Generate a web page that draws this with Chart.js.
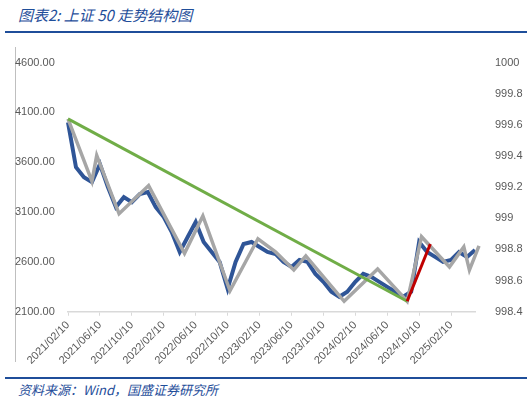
<!DOCTYPE html>
<html><head><meta charset="utf-8">
<script src="https://cdn.jsdelivr.net/npm/chart.js@4"></script>
<style>
body{margin:0;width:532px;height:404px;background:#fff;position:relative;overflow:hidden;font-family:"Liberation Sans",sans-serif}
#t{position:absolute;left:18px;top:4px;font-family:"Noto Sans CJK SC";font-style:italic;color:#1f4e9a;font-size:15px}
.rule{position:absolute;left:5px;width:522px;height:2px;background:#1f4e9a}
#s{position:absolute;left:18px;top:380px;font-family:"Noto Sans CJK SC";font-style:italic;color:#1f4e9a;font-size:13px}
#vl{position:absolute;left:15px;top:47px;width:1px;height:315px;background:#bfbfbf}
#c{position:absolute;left:15px;top:44px;width:515px;height:326px}
</style></head><body>
<div id="t">图表2: 上证 50 走势结构图</div>
<div class="rule" style="top:31px"></div>
<div id="vl"></div>
<div id="c"><canvas id="cv"></canvas></div>
<div class="rule" style="top:377px"></div>
<div id="s">资料来源：Wind，国盛证券研究所</div>
<script>
const monthIdx=[...Array(53).keys()];
const indexValues=[4000,3550,3450,3400,3580,3350,3150,3250,3200,3280,3300,3150,3050,2900,2700,2850,3000,2800,2700,2600,2330,2600,2780,2800,2750,2700,2680,2600,2550,2620,2600,2480,2400,2300,2250,2300,2400,2480,2450,2400,2350,2300,2250,2300,2800,2700,2650,2600,2620,2700,2650,2720,2700];
const structX=[0,3,3.6,6.4,10.1,14.6,16.9,20.3,23.8,26,28.3,29.8,34.6,38.8,42.5,44.3,47.8,49.6,50.3,51.5,52];
const structY=[4035,3408,3669,3083,3366,2686,3062,2310,2832,2700,2520,2660,2205,2530,2205,2853,2550,2750,2518,2760,2720];
const downX=[0,42.5],downY=[4035,2205];
const upX=[42.5,45.4],upY=[2205,2780];
const pts=(xs,ys)=>xs.map((x,i)=>({x,y:ys[i]}));
const lbl=i=>{const m=1+i;const y=2021+Math.floor(m/12);const mm=(m%12)+1;return y+'/'+String(mm).padStart(2,'0')+'/10';};
const f={family:"Liberation Sans",size:11};
new Chart(document.getElementById('cv'),{type:'line',
data:{datasets:[
{data:pts(monthIdx,indexValues),borderColor:'#2f5597',borderWidth:4,pointRadius:0,tension:0,order:4},
{data:pts(structX,structY),borderColor:'#a6a6a6',borderWidth:3.5,pointRadius:0,order:3},
{data:pts(downX,downY),borderColor:'#70ad47',borderWidth:3,pointRadius:0,order:2},
{data:pts(upX,upY),borderColor:'#c00000',borderWidth:3,pointRadius:0,order:1}]},
options:{responsive:true,maintainAspectRatio:false,animation:false,clip:false,
layout:{padding:{top:14,right:0,left:0,bottom:0}},
plugins:{legend:{display:false},tooltip:{enabled:false}},
scales:{
x:{type:'linear',min:0,max:51,grid:{drawOnChartArea:false,color:'#d9d9d9',tickLength:4},border:{color:'#d9d9d9',width:1.5},
 afterBuildTicks:a=>{a.ticks=[0,4,8,12,16,20,24,28,32,36,40,44,48].map(v=>({value:v}));},
 ticks:{color:'#595959',font:f,maxRotation:45,minRotation:45,callback:v=>lbl(v)}},
y:{position:'left',min:2100,max:4600,grid:{display:false},border:{display:false},
 afterFit:a=>{a.width=53},ticks:{stepSize:500,color:'#595959',font:f,crossAlign:'far',callback:v=>v.toFixed(2)}},
y2:{position:'right',min:998.4,max:1000,grid:{display:false},border:{display:false},
 afterFit:a=>{a.width=55},ticks:{stepSize:0.2,color:'#595959',font:f,padding:12,callback:v=>String(Number(v.toFixed(1)))}}
}}});
</script></body></html>
